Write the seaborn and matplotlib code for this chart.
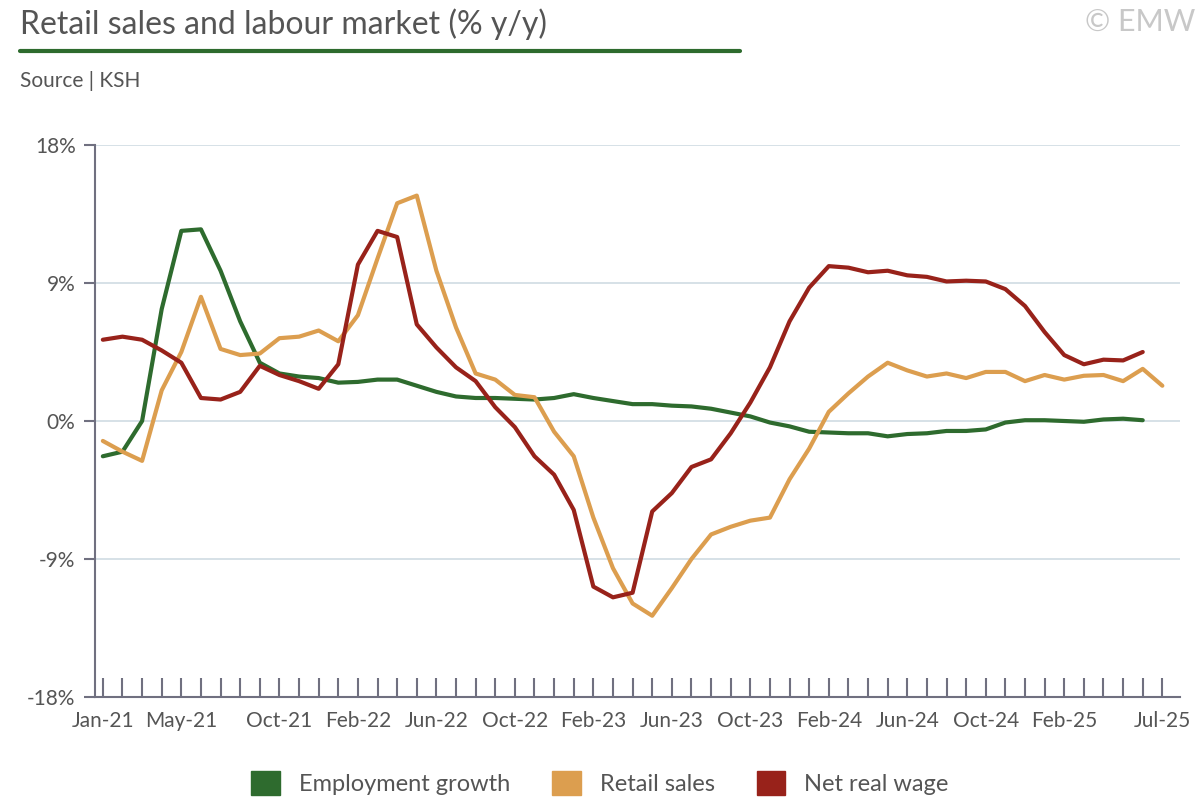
import numpy as np
import pandas as pd
import matplotlib
matplotlib.use("Agg")
import matplotlib.pyplot as plt
import seaborn as sns
from matplotlib.patches import Patch

months = pd.date_range("2021-01-01", "2025-07-01", freq="MS")
employment = [-2.3, -2.0, 0.0, 7.3, 12.4, 12.5, 9.8, 6.5, 3.8, 3.1, 2.9, 2.8, 2.5, 2.55, 2.7, 2.7,
              2.3, 1.9, 1.6, 1.5, 1.5, 1.45, 1.4, 1.5, 1.75, 1.5, 1.3, 1.1, 1.1, 1.0, 0.95, 0.8,
              0.55, 0.3, -0.1, -0.35, -0.7, -0.75, -0.8, -0.8, -1.0, -0.85, -0.8, -0.65, -0.65,
              -0.55, -0.1, 0.05, 0.05, 0.0, -0.05, 0.1, 0.15, 0.05]
retail = [-1.3, -2.0, -2.6, 2.0, 4.5, 8.1, 4.7, 4.3, 4.4, 5.4, 5.5, 5.9, 5.2, 6.9, 10.6, 14.2,
          14.7, 9.8, 6.1, 3.1, 2.7, 1.7, 1.55, -0.7, -2.3, -6.3, -9.6, -11.9, -12.7, -10.9, -9.0,
          -7.4, -6.9, -6.5, -6.3, -3.8, -1.8, 0.6, 1.8, 2.9, 3.8, 3.3, 2.9, 3.1, 2.8, 3.2, 3.2,
          2.6, 3.0, 2.7, 2.95, 3.0, 2.6, 3.4, 2.3]
wage = [5.3, 5.5, 5.3, 4.6, 3.8, 1.5, 1.4, 1.9, 3.6, 3.0, 2.6, 2.1, 3.7, 10.2, 12.4, 12.0, 6.3,
        4.8, 3.5, 2.6, 0.9, -0.4, -2.3, -3.5, -5.8, -10.8, -11.5, -11.2, -5.9, -4.7, -3.0, -2.5,
        -0.8, 1.2, 3.5, 6.5, 8.7, 10.1, 10.0, 9.7, 9.8, 9.5, 9.4, 9.1, 9.15, 9.1, 8.6, 7.5, 5.8,
        4.3, 3.7, 4.0, 3.95, 4.5]
tick_labels = ["Jan-21", "May-21", "Oct-21", "Feb-22", "Jun-22", "Oct-22", "Feb-23", "Jun-23",
               "Oct-23", "Feb-24", "Jun-24", "Oct-24", "Feb-25", "Jul-25"]
series_names = ["Employment growth", "Retail sales", "Net real wage"]
colors = ["#2e6b2e", "#dc9e4f", "#98221a"]

sns.set_theme(style="white")
plt.rcParams["font.family"] = ["Lato", "DejaVu Sans"]

rows = []
for name, vals in zip(series_names, [employment, retail, wage]):
    for i, v in enumerate(vals):
        rows.append({"idx": i, "value": v, "series": name})
df = pd.DataFrame(rows)

fig = plt.figure(figsize=(12, 8), dpi=100)
ax = fig.add_axes([95/1200, 1-697/800, (1180-95)/1200, (697-145)/800])
sns.lineplot(data=df, x="idx", y="value", hue="series", palette=dict(zip(series_names, colors)),
             linewidth=3, ax=ax, legend=False)

ax.set_xlim(-0.4, 54.9)
ax.set_ylim(-18, 18)
ax.set_yticks([-18, -9, 0, 9, 18])
ax.set_yticklabels([f"{v}%" for v in [-18, -9, 0, 9, 18]], color="#555555", fontsize=15)
ax.set_xticks(range(len(months)))
lab_idx = [0, 4, 9, 13, 17, 21, 25, 29, 33, 37, 41, 45, 49, 54]
ax.set_xticklabels([tick_labels[lab_idx.index(i)] if i in lab_idx else "" for i in range(len(months))],
                   color="#555555", fontsize=15)
ax.tick_params(axis="x", bottom=True, direction="in", length=14, color="#707080", width=1.5, pad=10)
ax.tick_params(axis="y", left=True, direction="out", length=8, color="#707080", width=1.5, pad=6)
for v in [-9, 0, 9, 18]:
    ax.axhline(v, color="#cfdbe3", lw=1.2, zorder=0)
for s in ["top", "right"]:
    ax.spines[s].set_visible(False)
for s in ["left", "bottom"]:
    ax.spines[s].set_color("#707080")
    ax.spines[s].set_linewidth(1.5)
ax.set_xlabel("")
ax.set_ylabel("")

fig.text(20/1200, 1-24/800, "Retail sales and labour market (% y/y)", fontsize=23, color="#555555", va="center")
fig.add_artist(plt.Line2D([20/1200, 740/1200], [1-51/800, 1-51/800], color="#2e6b2e", lw=3))
fig.text(20/1200, 1-81/800, "Source | KSH", fontsize=15, color="#555555", va="center")
fig.text(1195/1200, 1-22/800, "© EMW", fontsize=22, color="#c8c8c8", va="center", ha="right")

handles = [Patch(color=c, label=n) for n, c in zip(series_names, colors)]
fig.legend(handles=handles, loc="center", bbox_to_anchor=(0.5, 1-783/800), ncol=3, frameon=False,
           fontsize=17, handlelength=1.2, handleheight=1.2, columnspacing=1.8, labelcolor="#555555")

fig.savefig("out.png", dpi=100)
